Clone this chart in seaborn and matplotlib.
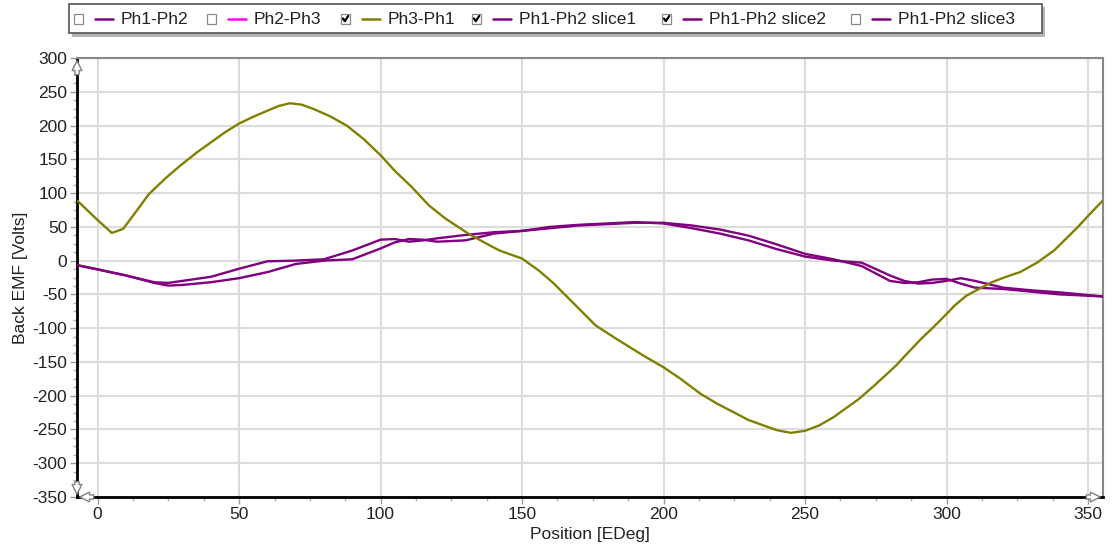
import matplotlib
matplotlib.use("Agg")
import matplotlib.pyplot as plt
import seaborn as sns
from matplotlib.patches import Rectangle
from matplotlib.lines import Line2D
from matplotlib.ticker import MultipleLocator

# Ph3-Ph1 back EMF
ph31_pos = [-7, -3, 0, 5, 9, 14, 18, 24, 29, 35, 41, 45, 50, 55, 60, 64, 68, 72, 76,
            82, 88, 94, 100, 105, 111, 117, 123, 131, 137, 142, 146, 150, 156, 161,
            166, 171, 176, 183, 188, 193, 200, 206, 213, 219, 225, 230, 236, 240,
            245, 250, 255, 260, 266, 269, 275, 282, 286, 291, 295, 300, 303, 307,
            311, 316, 321, 326, 332, 338, 346, 350, 355]
ph31_emf = [88, 72, 60, 41, 47, 75, 98, 122, 140, 160, 178, 190, 203, 213, 222, 229,
            233, 231, 225, 214, 200, 180, 156, 133, 109, 82, 62, 40, 26, 15, 9, 3,
            -15, -33, -54, -75, -96, -115, -128, -141, -158, -175, -197, -212, -225,
            -236, -245, -251, -255, -252, -244, -232, -214, -205, -183, -156, -138,
            -116, -100, -79, -66, -52, -43, -32, -24, -17, -3, 15, 48, 66, 88]

# Ph1-Ph2 slices
slice_pos = [-7, 0, 10, 20, 25, 30, 40, 50, 60, 70, 80, 90, 100, 105, 110, 115,
             120, 130, 140, 150, 160, 170, 180, 190, 200, 210, 220, 230, 240, 250,
             260, 270, 280, 285, 290, 295, 300, 305, 310, 320, 330, 340, 355]
slice1_emf = [-7, -13, -22, -32, -33, -30, -24, -12, -1, 0, 2, 15, 31, 32, 28, 30,
              33, 38, 42, 44, 50, 53, 55, 57, 55, 48, 40, 30, 17, 6,
              0, -3, -22, -30, -34, -33, -30, -26, -30, -40, -44, -47, -53]
slice2_emf = [-7, -13, -22, -33, -37, -36, -32, -26, -17, -5, 0, 2, 18, 27, 32, 31,
              28, 30, 40, 44, 48, 52, 54, 56, 56, 52, 46, 37, 24, 10,
              2, -8, -30, -33, -32, -28, -27, -34, -40, -42, -46, -50, -53]

legend_labels = ["Ph1-Ph2", "Ph2-Ph3", "Ph3-Ph1", "Ph1-Ph2 slice1", "Ph1-Ph2 slice2", "Ph1-Ph2 slice3"]
legend_colors = ["#800080", "#ff00ff", "#808000", "#800080", "#800080", "#800080"]
legend_checked = [False, False, True, True, True, False]

sns.set_style("white")
plt.rcParams['font.family'] = ['Liberation Sans', 'DejaVu Sans']
plt.rcParams['axes.unicode_minus'] = False
fs = 12.5

W, H = 1114, 554
fig = plt.figure(figsize=(W / 100, H / 100), dpi=100)
ax = fig.add_axes([77 / W, 1 - 497 / H, (1103 - 77) / W, (497 - 58) / H])

purple = "#800080"
olive = "#808000"
sns.lineplot(x=slice_pos, y=slice1_emf, ax=ax, color=purple, linewidth=1.7, estimator=None, sort=False, zorder=3)
sns.lineplot(x=slice_pos, y=slice2_emf, ax=ax, color=purple, linewidth=1.7, estimator=None, sort=False, zorder=3)
sns.lineplot(x=ph31_pos, y=ph31_emf, ax=ax, color=olive, linewidth=1.7, estimator=None, sort=False, zorder=4)

ax.set_xlim(-7.3, 355.3)
ax.set_ylim(-350, 300)
ax.xaxis.set_major_locator(MultipleLocator(50))
ax.yaxis.set_major_locator(MultipleLocator(50))
ax.xaxis.set_minor_locator(MultipleLocator(12.5))
ax.yaxis.set_minor_locator(MultipleLocator(12.5))
ax.grid(True, which='major', color='#dcdcdc', linewidth=1.5, zorder=0)
ax.set_axisbelow(True)

ax.tick_params(which='major', direction='out', length=5, width=1, color='#9a9a9a',
               labelsize=fs, labelcolor='#222222', pad=2, left=True, bottom=True)
ax.tick_params(which='minor', direction='out', length=3, width=1, color='#b0b0b0',
               left=True, bottom=True)

for side in ['left', 'bottom']:
    ax.spines[side].set_color('black')
    ax.spines[side].set_linewidth(2)
for side in ['top', 'right']:
    ax.spines[side].set_color('#888888')
    ax.spines[side].set_linewidth(1.5)

ax.set_xlabel("Position [EDeg]", fontsize=fs, color='#222222', labelpad=4)
ax.set_ylabel("Back EMF [Volts]", fontsize=fs, color='#222222', labelpad=3)

# hollow arrows at the axis ends
arrow_kw = dict(arrowstyle='simple,head_length=0.7,head_width=0.7,tail_width=0.3',
                fc='white', ec='#808080', lw=1)
ax.annotate('', xy=(0, 1), xycoords='axes fraction', xytext=(0, -14),
            textcoords='offset points', arrowprops=arrow_kw, zorder=10, annotation_clip=False)
ax.annotate('', xy=(0, 0), xycoords='axes fraction', xytext=(0, 13),
            textcoords='offset points', arrowprops=arrow_kw, zorder=10, annotation_clip=False)
ax.annotate('', xy=(0, 0), xycoords='axes fraction', xytext=(14, 0),
            textcoords='offset points', arrowprops=arrow_kw, zorder=10, annotation_clip=False)
ax.annotate('', xy=(1, 0), xycoords='axes fraction', xytext=(-14, 0),
            textcoords='offset points', arrowprops=arrow_kw, zorder=10, annotation_clip=False)

# legend strip with check boxes
def fx(px):
    return px / W

def fy(py):
    return 1 - py / H

fig.patches.append(Rectangle((fx(72), fy(37)), fx(1045) - fx(72), fy(7) - fy(37),
                             transform=fig.transFigure, fc='#b5b5b5', ec='none', zorder=0))
fig.patches.append(Rectangle((fx(69), fy(33)), fx(1042) - fx(69), fy(4) - fy(33),
                             transform=fig.transFigure, fc='white', ec='#555555', lw=1.2, zorder=1))

box_x = [74, 207, 341, 472, 662, 851]
yc = 19
bs = 9
for i, lab in enumerate(legend_labels):
    bx = box_x[i]
    fig.patches.append(Rectangle((fx(bx), fy(yc + bs / 2)), fx(bs), bs / H, transform=fig.transFigure,
                                 fc='white', ec='#8a8a8a', lw=0.9, zorder=2))
    if legend_checked[i]:
        fig.lines.append(Line2D([fx(bx + 2), fx(bx + 3.8), fx(bx + 7.2)],
                                [fy(yc - 0.5), fy(yc + 2.2), fy(yc - 3)],
                                transform=fig.transFigure, color='black', lw=1.6, zorder=3))
    fig.lines.append(Line2D([fx(bx + 21), fx(bx + 39)], [fy(yc), fy(yc)],
                            transform=fig.transFigure, color=legend_colors[i], lw=1.8, zorder=3))
    fig.text(fx(bx + 47), fy(yc), lab, fontsize=fs, color='#222222', va='center', ha='left', zorder=3)

fig.savefig("out.png", dpi=100)
